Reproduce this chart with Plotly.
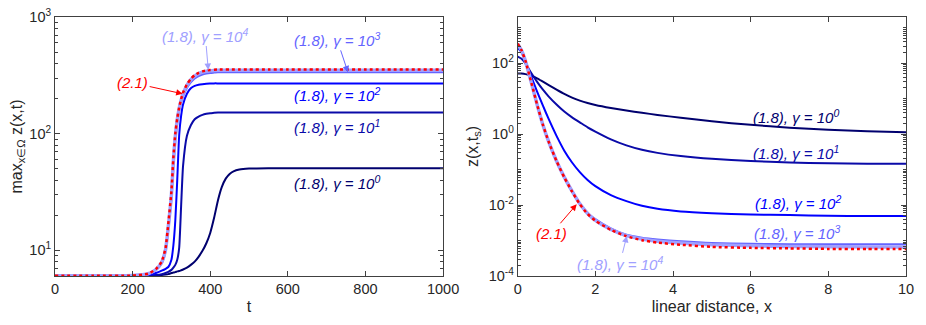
import plotly.graph_objects as go

# ---- left panel: max_x z(x,t) vs t ----
t = [0, 100, 200, 240, 260, 275, 285, 292, 300, 305, 310, 315, 320, 325, 330, 340,
     350, 360, 370, 380, 390, 400, 410, 420, 430, 440, 450, 460, 475, 500, 550, 600, 800, 1000]

zmax_g0 = [6.05, 6.05, 6.06, 6.08, 6.1, 6.15, 6.2, 6.25, 6.4, 6.45, 6.5, 6.6, 6.65, 6.75, 6.85, 7.1,
           7.5, 8.0, 8.8, 9.9, 11.5, 14.1, 19, 26.9, 35, 41.2, 45.2, 47.6, 49.3, 50.2, 50.5, 50.6,
           50.6, 50.6]
zmax_g1 = [6.05, 6.05, 6.06, 6.08, 6.15, 6.25, 6.4, 6.55, 6.8, 7.1, 7.5, 8.3, 10.5, 24, 53, 96,
           118, 133, 140, 145, 148, 150, 151, 152, 152, 152, 152, 152, 152, 152, 152, 152, 152, 152]
zmax_g2 = [6.05, 6.05, 6.06, 6.15, 6.4, 6.7, 6.95, 7.2, 8.3, 11, 18, 40, 97, 142, 178, 220,
           245, 257, 263, 266, 268, 269, 270, 270, 270, 270, 270, 270, 270, 270, 270, 270, 270, 270]
zmax_g3 = [6.05, 6.05, 6.07, 6.25, 6.75, 7.7, 9.8, 15, 27, 50, 86, 122, 154, 183, 208, 247,
           276, 298, 312, 322, 328, 332, 334, 336, 336, 336, 336, 336, 336, 336, 336, 336, 336, 336]
zmax_g4 = [6.05, 6.05, 6.08, 6.3, 6.85, 7.9, 10.2, 16, 30, 58, 95, 131, 164, 194, 220, 260,
           290, 312, 327, 337, 343, 347, 349, 350, 350, 350, 350, 350, 350, 350, 350, 350, 350, 350]
zmax_21 = [6.05, 6.05, 6.08, 6.3, 6.9, 8.0, 10.5, 17, 32, 62, 100, 135, 168, 198, 225, 265,
           295, 318, 332, 342, 348, 352, 354, 355, 355, 355, 355, 355, 355, 355, 355, 355, 355, 355]

# ---- right panel: z(x,t_s) vs x ----
xs = [0, 0.1, 0.2, 0.35, 0.5, 0.65, 0.8, 1.0, 1.2, 1.4, 1.6, 1.8, 2.0, 2.4, 2.8, 3.2,
      3.6, 4.2, 5, 6, 7, 8, 9, 10]

zs_g0 = [51.3, 50.7, 49, 44.2, 37.2, 29.9, 24, 18, 13.6, 10.7, 8.8, 7.5, 6.6, 5.43, 4.62, 3.98,
         3.47, 2.88, 2.29, 1.82, 1.51, 1.32, 1.2, 1.13]
zs_g1 = [152, 132, 98, 52.5, 29.5, 17.8, 11.4, 6.8, 4.3, 2.95, 2.14, 1.55, 1.175, 0.71, 0.48, 0.36,
         0.295, 0.24, 0.2, 0.174, 0.158, 0.151, 0.146, 0.145]
zs_g2 = [269, 200, 112, 41.7, 15.8, 6.3, 2.63, 0.89, 0.34, 0.158, 0.085, 0.051, 0.034, 0.019,
         0.0129, 0.0095, 0.0078, 0.0066, 0.0059, 0.0054, 0.0052, 0.0050, 0.0049, 0.0049]
zs_g3 = [336, 220, 112, 29, 6.8, 1.83, 0.61, 0.178, 0.062, 0.025, 0.0112, 0.006, 0.004, 0.0022,
         0.00145, 0.0012, 0.00107, 0.00095, 0.00085, 0.00081, 0.00079, 0.00079, 0.00079, 0.00079]
zs_g4 = [350, 226, 114, 28.6, 6.75, 1.81, 0.60, 0.175, 0.061, 0.0245, 0.0108, 0.0058, 0.0037,
         0.00205, 0.00137, 0.0011, 0.00095, 0.00085, 0.00076, 0.00071, 0.00068, 0.00067,
         0.00066, 0.00066]
zs_21 = [355, 229, 115, 28.8, 6.8, 1.82, 0.60, 0.174, 0.060, 0.024, 0.0105, 0.0056, 0.0036, 0.002,
         0.00132, 0.00102, 0.00087, 0.00076, 0.00066, 0.00062, 0.0006, 0.00058, 0.000575, 0.000575]

C0, C1, C2, C3, C4, CR = "#00006e", "#0a0aa8", "#0000ff", "#6464ff", "#a0a0ff", "#ff0000"

fig = go.Figure()


def add(x, y, color, width, ax, dash="solid"):
    fig.add_trace(go.Scatter(x=x, y=y, mode="lines", xaxis=ax[0], yaxis=ax[1],
                             line=dict(color=color, width=width, dash=dash, shape="spline",
                                       smoothing=0.5),
                             showlegend=False, hoverinfo="skip"))


for ys, c, w in [(zmax_g0, C0, 2), (zmax_g1, C1, 2), (zmax_g2, C2, 2),
                 (zmax_g3, C3, 2), (zmax_g4, C4, 3.5)]:
    add(t, ys, c, w, ("x", "y"))
add(t, zmax_21, CR, 2.5, ("x", "y"), "dot")

for ys, c, w in [(zs_g0, C0, 2), (zs_g1, C1, 2), (zs_g2, C2, 2),
                 (zs_g3, C3, 2), (zs_g4, C4, 3.5)]:
    add(xs, ys, c, w, ("x2", "y2"))
add(xs, zs_21, CR, 2.5, ("x2", "y2"), "dot")

AX = "#404040"
FONT = "Liberation Sans, Arial, sans-serif"
minor_l = [k * 10 ** n for n in range(0, 3) for k in range(2, 10)]
minor_r = [k * 10 ** n for n in range(-4, 4) for k in range(1, 10)]

xcommon = dict(showline=True, linecolor=AX, linewidth=1, mirror="allticks", ticks="inside",
               ticklen=5, tickcolor=AX, showgrid=False, zeroline=False,
               tickfont=dict(size=14.5, color="#262626"), automargin=False,
               ticklabeloverflow="allow",
               title_font=dict(size=16, color="#262626"), title_standoff=4)

# the page body adds an 8px offset, so the figure is 8px smaller and margins shifted
fig.update_layout(
    width=918, height=317, margin=dict(l=47, r=20, t=9, b=49),
    plot_bgcolor="white", paper_bgcolor="white", font=dict(family=FONT),
    xaxis=dict(xcommon, domain=[0, 0.456], range=[0, 1000], tickvals=[0, 200, 400, 600, 800, 1000],
               title_text="t"),
    yaxis=dict(xcommon, type="log", range=[0.78, 3.0005], tickvals=[10, 100, 1000],
               ticktext=["10<sup>1</sup>", "10<sup>2</sup>", "10<sup>3</sup>"],
               minor=dict(tickvals=minor_l, ticks="inside", ticklen=3, tickcolor=AX),
               title_text="max<sub>x∈Ω</sub> z(x,t)", title_standoff=6),
    xaxis2=dict(xcommon, domain=[0.5437, 1], range=[0, 10], tickvals=[0, 2, 4, 6, 8, 10],
                anchor="y2", title_text="linear distance, x"),
    yaxis2=dict(xcommon, type="log", range=[-4.0005, 3.3], anchor="x2",
                tickvals=[1e-4, 1e-2, 1, 100],
                ticktext=["10<sup>-4</sup>", "10<sup>-2</sup>", "10<sup>0</sup>", "10<sup>2</sup>"],
                minor=dict(tickvals=minor_r, ticks="inside", ticklen=3, tickcolor=AX),
                title_text="z(x,t<sub>s</sub>)", title_standoff=6),
)


def lab(txt, x, y, color, xr, yr, ax=None, ay=None):
    a = dict(text="<i>" + txt + "</i>", x=x, y=y, xref=xr, yref=yr,
             font=dict(size=15, color=color, family=FONT))
    if ax is None:
        a.update(showarrow=False)
    else:
        a.update(showarrow=True, ax=ax, ay=ay, arrowhead=2, arrowsize=1.3, arrowwidth=1,
                 arrowcolor=color)
    fig.add_annotation(**a)


g = "(1.8), γ = 10<sup>%d</sup>"
# left panel labels
lab(g % 4, 395, 2.546, C4, "x", "y", -3, -35)
lab(g % 3, 755, 2.526, C3, "x", "y", -11, -33)
lab("(2.1)", 329, 2.342, CR, "x", "y", -50, -11)
lab(g % 2, 727, 2.332, C2, "x", "y")
lab(g % 1, 727, 2.066, C1, "x", "y")
lab(g % 0, 727, 1.578, C0, "x", "y")
# right panel labels
lab(g % 0, 7.17, 0.488, C0, "x2", "y2")
lab(g % 1, 7.17, -0.528, C1, "x2", "y2")
lab(g % 2, 7.22, -1.938, C2, "x2", "y2")
lab(g % 3, 7.2, -2.785, C3, "x2", "y2")
lab(g % 4, 2.81, -2.87, C4, "x2", "y2", -7, 28)
lab("(2.1)", 1.52, -1.98, CR, "x2", "y2", -25, 29)

fig.write_html("out.html")
